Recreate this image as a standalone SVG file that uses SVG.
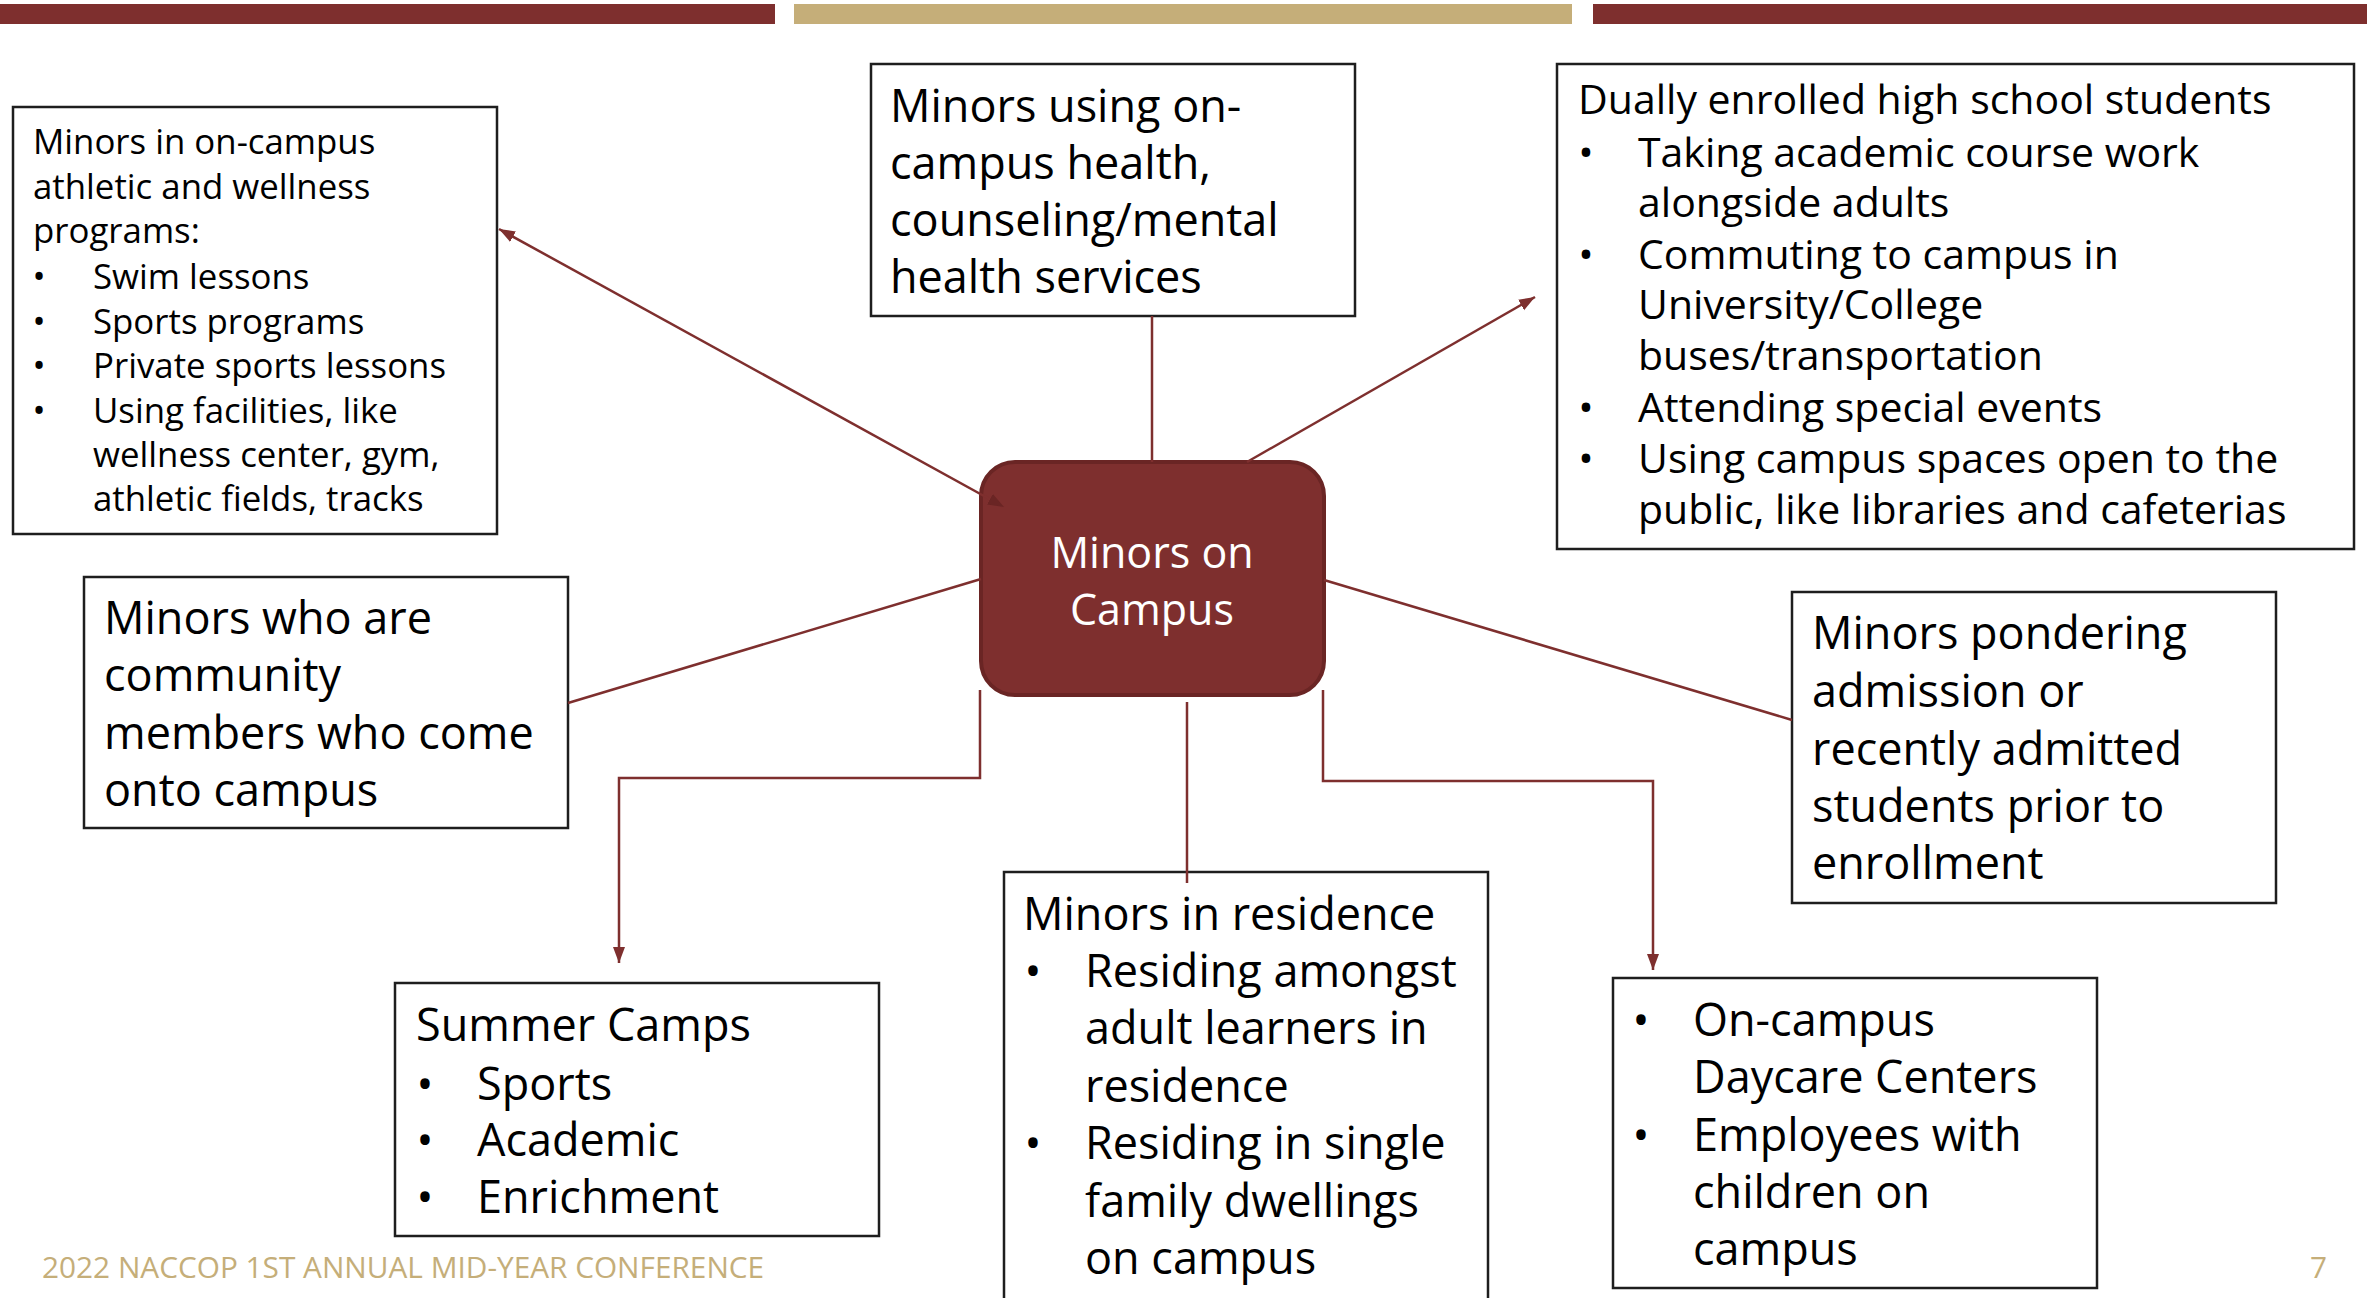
<svg xmlns="http://www.w3.org/2000/svg" width="2367" height="1298" viewBox="0 0 2367 1298">
<style>
.box{fill:#ffffff;stroke:#1e1e1e;stroke-width:2.5}
.t{font-family:"Open Sans","Noto Sans","DejaVu Sans",sans-serif;fill:#000000}
.s34{font-size:34.8px}
.s41{font-size:41px}
.s45{font-size:45px}
.b{text-anchor:middle}
.con{fill:none;stroke:#7E2F2E;stroke-width:2.5}
.foot{font-family:"Open Sans","Noto Sans",sans-serif;font-size:29.8px;fill:#C5AE79}
</style>
<defs>
<marker id="arr" markerUnits="userSpaceOnUse" markerWidth="18" markerHeight="14" refX="16" refY="7" orient="auto-start-reverse" viewBox="0 0 18 14">
<path d="M0,1 L16,7 L0,13 z" fill="#7E2F2E"/>
</marker>
<marker id="arrIn" markerUnits="userSpaceOnUse" markerWidth="18" markerHeight="14" refX="16" refY="7" orient="auto-start-reverse" viewBox="0 0 18 14">
<path d="M0,1 L16,7 L0,13 z" fill="#6A2524"/>
</marker>
</defs>
<rect x="0" y="0" width="2367" height="1298" fill="#ffffff"/>
<rect x="0" y="4" width="775" height="20" fill="#7E2F2E"/>
<rect x="794" y="4" width="778" height="20" fill="#C5AE79"/>
<rect x="1593" y="4" width="774" height="20" fill="#7E2F2E"/>

<g id="node-athletic">
<rect class="box" x="13" y="107" width="484" height="427"/>
<text class="t s34" x="33" y="153.5">Minors in on-campus</text>
<text class="t s34" x="33" y="198.5">athletic and wellness</text>
<text class="t s34" x="33" y="242.5">programs:</text>
<text class="t s34 b" x="39" y="288.5">•</text>
<text class="t s34" x="93" y="288.5">Swim lessons</text>
<text class="t s34 b" x="39" y="333.5">•</text>
<text class="t s34" x="93" y="333.5">Sports programs</text>
<text class="t s34 b" x="39" y="377.5">•</text>
<text class="t s34" x="93" y="377.5">Private sports lessons</text>
<text class="t s34 b" x="39" y="422.5">•</text>
<text class="t s34" x="93" y="422.5">Using facilities, like</text>
<text class="t s34" x="93" y="466.5">wellness center, gym,</text>
<text class="t s34" x="93" y="511">athletic fields, tracks</text>
</g>

<g id="node-health">
<rect class="box" x="871" y="64" width="484" height="252"/>
<text class="t s45" x="890" y="122">Minors using on-</text>
<text class="t s45" x="890" y="179">campus health,</text>
<text class="t s45" x="890" y="236">counseling/mental</text>
<text class="t s45" x="890" y="293">health services</text>
</g>

<g id="node-dual">
<rect class="box" x="1557" y="64" width="797" height="485"/>
<text class="t s41" x="1578" y="114">Dually enrolled high school students</text>
<text class="t s41 b" x="1586" y="167">•</text>
<text class="t s41" x="1638" y="167">Taking academic course work</text>
<text class="t s41" x="1638" y="217">alongside adults</text>
<text class="t s41 b" x="1586" y="269">•</text>
<text class="t s41" x="1638" y="269">Commuting to campus in</text>
<text class="t s41" x="1638" y="319">University/College</text>
<text class="t s41" x="1638" y="370">buses/transportation</text>
<text class="t s41 b" x="1586" y="422">•</text>
<text class="t s41" x="1638" y="422">Attending special events</text>
<text class="t s41 b" x="1586" y="473">•</text>
<text class="t s41" x="1638" y="473">Using campus spaces open to the</text>
<text class="t s41" x="1638" y="524">public, like libraries and cafeterias</text>
</g>

<g id="node-community">
<rect class="box" x="84" y="577" width="484" height="251"/>
<text class="t s45" x="104" y="634">Minors who are</text>
<text class="t s45" x="104" y="691">community</text>
<text class="t s45" x="104" y="749">members who come</text>
<text class="t s45" x="104" y="806">onto campus</text>
</g>

<g id="node-pondering">
<rect class="box" x="1792" y="592" width="484" height="311"/>
<text class="t s45" x="1812" y="648.5">Minors pondering</text>
<text class="t s45" x="1812" y="706.5">admission or</text>
<text class="t s45" x="1812" y="764.5">recently admitted</text>
<text class="t s45" x="1812" y="821.5">students prior to</text>
<text class="t s45" x="1812" y="878.5">enrollment</text>
</g>

<g id="node-summer">
<rect class="box" x="395" y="983" width="484" height="253"/>
<text class="t s45" x="416" y="1041">Summer Camps</text>
<text class="t s45 b" x="425" y="1100">•</text>
<text class="t s45" x="477" y="1100">Sports</text>
<text class="t s45 b" x="425" y="1156">•</text>
<text class="t s45" x="477" y="1156">Academic</text>
<text class="t s45 b" x="425" y="1213">•</text>
<text class="t s45" x="477" y="1213">Enrichment</text>
</g>

<g id="node-residence">
<rect class="box" x="1004" y="872" width="484" height="450"/>
<text class="t s45" x="1023" y="930">Minors in residence</text>
<text class="t s45 b" x="1033" y="987">•</text>
<text class="t s45" x="1085" y="987">Residing amongst</text>
<text class="t s45" x="1085" y="1044">adult learners in</text>
<text class="t s45" x="1085" y="1102">residence</text>
<text class="t s45 b" x="1033" y="1159">•</text>
<text class="t s45" x="1085" y="1159">Residing in single</text>
<text class="t s45" x="1085" y="1217">family dwellings</text>
<text class="t s45" x="1085" y="1274">on campus</text>
</g>

<g id="node-daycare">
<rect class="box" x="1613" y="978" width="484" height="310"/>
<text class="t s45 b" x="1641" y="1036">•</text>
<text class="t s45" x="1693" y="1036">On-campus</text>
<text class="t s45" x="1693" y="1093">Daycare Centers</text>
<text class="t s45 b" x="1641" y="1151">•</text>
<text class="t s45" x="1693" y="1151">Employees with</text>
<text class="t s45" x="1693" y="1208">children on</text>
<text class="t s45" x="1693" y="1265">campus</text>
</g>

<g id="node-center">
<rect x="981" y="462" width="343" height="233" rx="34" ry="34" fill="#7E2F2E" stroke="#6A2524" stroke-width="4"/>
<text x="1152" y="568" text-anchor="middle" font-family="'Open Sans','Noto Sans',sans-serif" font-size="43" fill="#ffffff">Minors on</text>
<text x="1152" y="625" text-anchor="middle" font-family="'Open Sans','Noto Sans',sans-serif" font-size="43" fill="#ffffff">Campus</text>
</g>

<g id="connectors">
<line class="con" x1="1004" y1="507" x2="499" y2="229" marker-start="url(#arrIn)" marker-end="url(#arr)"/>
<line class="con" x1="1152" y1="316" x2="1152" y2="462"/>
<line class="con" x1="1247" y1="462" x2="1535" y2="297" marker-end="url(#arr)"/>
<line class="con" x1="568" y1="703" x2="981" y2="579"/>
<line class="con" x1="1324" y1="580" x2="1792" y2="720"/>
<path class="con" d="M980,690 V778 H619 V963" marker-end="url(#arr)"/>
<line class="con" x1="1187" y1="702" x2="1187" y2="883"/>
<path class="con" d="M1323,690 V781 H1653 V970" marker-end="url(#arr)"/>
</g>

<text class="foot" x="42" y="1278">2022 NACCOP 1ST ANNUAL MID-YEAR CONFERENCE</text>
<text class="foot" x="2310" y="1278">7</text>
</svg>
